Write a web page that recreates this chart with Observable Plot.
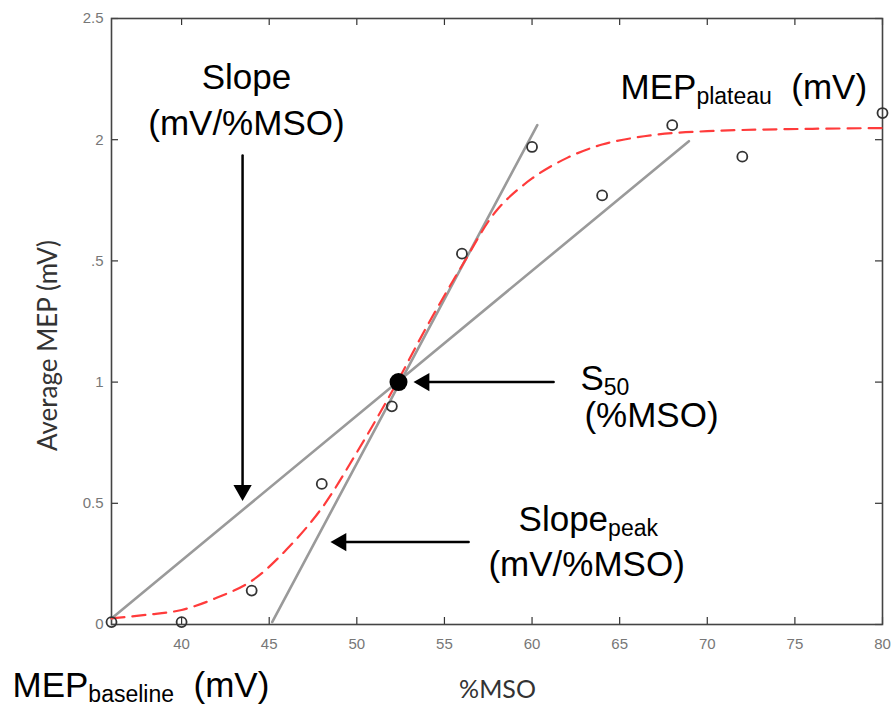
<!DOCTYPE html>
<html><head><meta charset="utf-8">
<script src="https://cdn.jsdelivr.net/npm/d3@7"></script>
<script src="https://cdn.jsdelivr.net/npm/@observablehq/plot@0.6"></script>
<style>body{margin:0;background:#fff} #chart svg{display:block}</style>
</head><body><div id="chart"></div>
<script>
// Measured data (%MSO vs average MEP)
const mso = [36, 40, 44, 48, 52, 56, 60, 64, 68, 72, 80];
const mep = [0.01, 0.01, 0.14, 0.58, 0.90, 1.53, 1.97, 1.77, 2.06, 1.93, 2.11];
// Fitted sigmoid
const fitX = [36, 38, 40, 42, 44, 46, 48, 50, 52, 54, 56, 58, 60, 62, 64, 66, 68, 70, 72, 76, 80];
const fitY = [0.025, 0.04, 0.06, 0.11, 0.18, 0.31, 0.48, 0.71, 0.96, 1.23, 1.48, 1.71, 1.84, 1.925, 1.98, 2.01, 2.027, 2.035, 2.04, 2.045, 2.048];
// Tangent lines
const slopeX = [36, 68.95];
const slopeY = [0.025, 1.994];
const peakX = [45.17, 60.3];
const peakY = [0.01, 2.06];
// S50 point
const s50X = [52.38];
const s50Y = [1.0];
// Arrows (start -> tip)
const downArrowX = [43.48], downArrowY1 = [1.935], downArrowY2 = [0.51];
const leftArrowY = [1.0, 0.34], leftArrowX1 = [61.23, 56.38], leftArrowX2 = [53.24, 48.5];
// Ticks
const xTicks = [40, 45, 50, 55, 60, 65, 70, 75, 80];
const yTicks = [0, 0.5, 1, 1.5, 2, 2.5];
const yTickLabels = ["0", "0.5", "1", ".5", "2", "2.5"];
// Annotations ({sub} = subscript)
const noteText = ["Slope", "(mV/%MSO)", "MEP{plateau} (mV)", "S{50}", "(%MSO)", "Slope{peak}", "(mV/%MSO)", "MEP{baseline} (mV)"];
const noteX = [43.70, 43.70, 65.05, 62.76, 62.99, 59.23, 57.51, 30.35];
const noteY = [2.257, 2.064, 2.216, 1.012, 0.862, 0.434, 0.248, -0.252];
const noteAnchor = ["middle", "middle", "start", "start", "start", "start", "start", "start"];

const W = 893, H = 707, mL = 111, mR = 11, mT = 18, mB = 83;
const plotW = W - mL - mR, plotH = H - mT - mB;

const points = mso.map((x, i) => ({x, y: mep[i]}));
const fit = fitX.map((x, i) => ({x, y: fitY[i]}));
const slopeLine = slopeX.map((x, i) => ({x, y: slopeY[i]}));
const peakLine = peakX.map((x, i) => ({x, y: peakY[i]}));
const s50 = s50X.map((x, i) => ({x, y: s50Y[i]}));
const downArrows = downArrowX.map((x, i) => ({x1: x, x2: x, y1: downArrowY1[i], y2: downArrowY2[i]}));
const leftArrows = leftArrowY.map((y, i) => ({y1: y, y2: y, x1: leftArrowX1[i], x2: leftArrowX2[i]}));
const notes = noteText.map((t, i) => ({text: t, x: noteX[i], y: noteY[i], anchor: noteAnchor[i]}));

const chart = Plot.plot({
  width: W, height: H,
  marginLeft: mL, marginRight: mR, marginTop: mT, marginBottom: mB,
  x: {domain: [36, 80], label: null},
  y: {domain: [0, 2.5], label: null},
  style: {fontFamily: "'Liberation Sans', Arial, sans-serif", background: "#fff", overflow: "visible"},
  marks: [
    Plot.axisX(xTicks, {tickSize: 0, tickPadding: 14, fontSize: 15, color: "#777", label: null}),
    Plot.axisY(yTicks, {tickSize: 0, tickPadding: 8, fontSize: 15, color: "#777", label: null,
      tickFormat: d => yTickLabels[yTicks.indexOf(d)]}),
    Plot.ruleX(xTicks, {x: d => d, insetTop: plotH - 7, stroke: "#333", strokeWidth: 1.2}),
    Plot.ruleX(xTicks, {x: d => d, insetBottom: plotH - 7, stroke: "#333", strokeWidth: 1.2}),
    Plot.ruleY(yTicks, {y: d => d, insetRight: plotW - 7, stroke: "#333", strokeWidth: 1.2}),
    Plot.ruleY(yTicks, {y: d => d, insetLeft: plotW - 7, stroke: "#333", strokeWidth: 1.2}),
    Plot.frame({stroke: "#444", strokeWidth: 1.6}),
    Plot.line(slopeLine, {x: "x", y: "y", stroke: "#9a9a9a", strokeWidth: 2.6}),
    Plot.line(peakLine, {x: "x", y: "y", stroke: "#9a9a9a", strokeWidth: 2.6}),
    Plot.line(fit, {x: "x", y: "y", stroke: "#ff3b3b", strokeWidth: 2.2, strokeDasharray: "13,8", curve: "catmull-rom"}),
    Plot.dot(points, {x: "x", y: "y", r: 5, stroke: "#333", strokeWidth: 1.8, fill: "none"}),
    Plot.dot(s50, {x: "x", y: "y", r: 9, fill: "black", stroke: "none"}),
    Plot.arrow(downArrows, {x1: "x1", y1: "y1", x2: "x2", y2: "y2", headLength: 0, insetEnd: 8, stroke: "black", strokeWidth: 2.5}),
    Plot.arrow(leftArrows, {x1: "x1", y1: "y1", x2: "x2", y2: "y2", headLength: 0, insetEnd: 8, stroke: "black", strokeWidth: 2.5}),
    Plot.dot(downArrows, {x: "x2", y: "y2", symbol: "triangle", r: 6.8, rotate: 180, dy: -10.5, fill: "black", stroke: "none"}),
    Plot.dot(leftArrows, {x: "x2", y: "y2", symbol: "triangle", r: 6.8, rotate: -90, dx: 10.5, fill: "black", stroke: "none"}),
    Plot.text(notes, {x: "x", y: "y", text: "text", textAnchor: "start", fontSize: 35, fill: "#000",
      filter: d => d.anchor === "start"}),
    Plot.text(notes, {x: "x", y: "y", text: "text", textAnchor: "middle", fontSize: 35, fill: "#000",
      filter: d => d.anchor === "middle"}),
    Plot.text(["Average MEP (mV)"], {x: 32.4, y: 1.151, text: d => d, rotate: -90, fontSize: 26, fill: "#333",
      fontFamily: "Lato, sans-serif"}),
    Plot.text(["%MSO"], {x: 58.03, y: -0.272, text: d => d, fontSize: 25, fill: "#333", fontFamily: "Lato, sans-serif"})
  ]
});

// subscripts
const ns = "http://www.w3.org/2000/svg";
chart.querySelectorAll("text").forEach(t => {
  const m = t.textContent.match(/^(.*?)\{(.*?)\}(.*)$/);
  if (!m) return;
  t.textContent = "";
  const a = document.createElementNS(ns, "tspan"); a.textContent = m[1]; t.appendChild(a);
  const b = document.createElementNS(ns, "tspan"); b.textContent = m[2];
  b.setAttribute("font-size", 23); b.setAttribute("dy", 5); t.appendChild(b);
  if (m[3]) {
    const c = document.createElementNS(ns, "tspan"); c.textContent = "\u00a0" + m[3];
    c.setAttribute("dy", -5); t.appendChild(c);
  }
});
document.getElementById("chart").appendChild(chart);
</script>
</body></html>
